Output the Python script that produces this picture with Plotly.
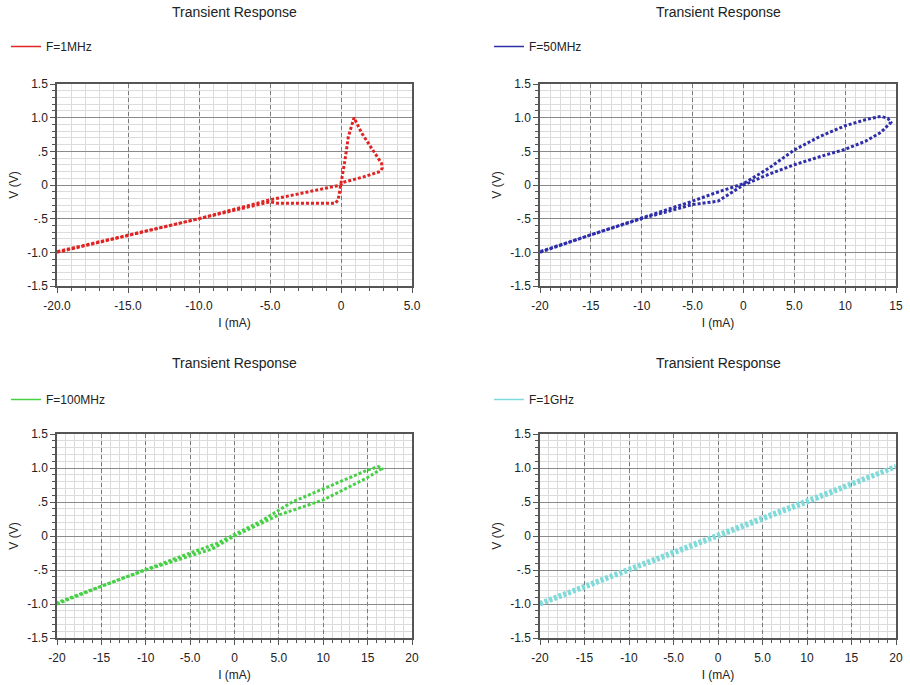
import plotly.graph_objects as go

# ---------------- data ----------------
titles = ["Transient Response"] * 4
series_names = ["F=1MHz", "F=50MHz", "F=100MHz", "F=1GHz"]
colors = ["#e02424", "#2e2eaa", "#46d046", "#7fdada"]

i_1mhz = [-20, -15, -10, -5, -4.5, -0.4, -0.2, -0.05, 0.05, 0.28, 0.52, 0.92, 1.46, 2.0, 2.51, 2.86, 2.9, 2.75, 1.58, 0.6, 0.16, 0, -2.5, -5, -10, -15, -20]
v_1mhz = [-1.0, -0.75, -0.5, -0.25, -0.27, -0.27, -0.22, -0.05, 0.05, 0.37, 0.72, 1.0, 0.77, 0.6, 0.45, 0.32, 0.25, 0.2, 0.12, 0.07, 0.04, 0.0, -0.11, -0.22, -0.5, -0.74, -0.99]

i_50mhz = [-20, -15, -10, -5, -2.5, -1, 0, 2.5, 5, 7.5, 10, 12, 13.5, 14.5, 14.2, 13.5, 12, 10, 7.5, 5, 2.5, 0, -1.5, -3, -5, -10, -15, -20]
v_50mhz = [-1.0, -0.74, -0.5, -0.29, -0.24, -0.1, 0.0, 0.16, 0.3, 0.42, 0.53, 0.65, 0.78, 0.93, 0.99, 1.02, 0.97, 0.88, 0.72, 0.52, 0.25, 0.02, -0.05, -0.13, -0.24, -0.49, -0.74, -0.99]

i_100mhz = [-20, -15, -10, -5, -2.5, 0, 5, 10, 15, 16.6, 16.2, 15, 10, 6.5, 3, 0, -2, -5, -10, -15, -20]
v_100mhz = [-1.0, -0.74, -0.5, -0.29, -0.19, 0.0, 0.31, 0.53, 0.86, 0.99, 1.02, 0.97, 0.7, 0.5, 0.22, 0.02, -0.11, -0.25, -0.49, -0.73, -0.98]

i_1ghz = [-20, -10, 0, 10, 20, 10, 0, -10, -20]
v_1ghz = [-1.0, -0.5, -0.01, 0.5, 1.02, 0.52, 0.01, -0.49, -0.99]

x_data = [i_1mhz, i_50mhz, i_100mhz, i_1ghz]
y_data = [v_1mhz, v_50mhz, v_100mhz, v_1ghz]

x_ranges = [[-20, 5], [-20, 15], [-20, 20], [-20, 20]]
x_tickvals = [[-20, -15, -10, -5, 0, 5],
              [-20, -15, -10, -5, 0, 5, 10, 15],
              [-20, -15, -10, -5, 0, 5, 10, 15, 20],
              [-20, -15, -10, -5, 0, 5, 10, 15, 20]]
x_ticktext = [["-20.0", "-15.0", "-10.0", "-5.0", "0", "5.0"],
              ["-20", "-15", "-10", "-5.0", "0", "5.0", "10", "15"],
              ["-20", "-15", "-10", "-5.0", "0", "5.0", "10", "15", "20"],
              ["-20", "-15", "-10", "-5.0", "0", "5.0", "10", "15", "20"]]
y_tickvals = [-1.5, -1.0, -0.5, 0, 0.5, 1.0, 1.5]
y_ticktext = ["-1.5", "-1.0", "-.5", "0", ".5", "1.0", "1.5"]
x_title = "I (mA)"
y_title = "V (V)"

# ---------------- layout ----------------
W, H = 910, 685
px_x = [(57, 412), (540, 896), (57, 412), (540, 896)]
px_y = [(84, 286), (84, 286), (434, 638), (434, 638)]
FONT = "Liberation Sans"

fig = go.Figure()
layout = dict(width=W, height=H, margin=dict(l=0, r=0, t=0, b=0, autoexpand=False),
              paper_bgcolor="white", plot_bgcolor="white",
              font=dict(family=FONT, size=11, color="#222"), showlegend=True)

annotations = []
for k in range(4):
    sfx = "" if k == 0 else str(k + 1)
    xd = [px_x[k][0] / W, px_x[k][1] / W]
    yd = [1 - px_y[k][1] / H, 1 - px_y[k][0] / H]
    layout["xaxis" + sfx] = dict(
        domain=xd, anchor="y" + sfx, range=x_ranges[k], automargin=False,
        tickvals=x_tickvals[k], ticktext=x_ticktext[k],
        showgrid=True, gridcolor="#7a7a7a", griddash="4px,3px", gridwidth=1,
        zeroline=False, showline=True, linecolor="#555", linewidth=1.5, mirror=True,
        ticks="outside", ticklen=5, tickcolor="#555", ticklabelstandoff=3,
        minor=dict(dtick=1, showgrid=True, gridcolor="#dcdcdc", gridwidth=1, griddash="solid",
                   ticks="outside", ticklen=3, tickcolor="#555"),
        tickfont=dict(size=12, color="#222"),
        title=dict(text=x_title, font=dict(size=12, color="#222"), standoff=6),
    )
    layout["yaxis" + sfx] = dict(
        domain=yd, anchor="x" + sfx, range=[-1.5, 1.5], automargin=False,
        tickvals=y_tickvals, ticktext=y_ticktext,
        showgrid=True, gridcolor="#8a8a8a", gridwidth=1,
        zeroline=False, showline=True, linecolor="#555", linewidth=1.5, mirror=True,
        ticks="outside", ticklen=5, tickcolor="#555",
        minor=dict(dtick=0.1, showgrid=True, gridcolor="#dcdcdc", gridwidth=1, griddash="solid",
                   ticks="outside", ticklen=3, tickcolor="#555"),
        tickfont=dict(size=12, color="#222"),
        title=dict(text=y_title, font=dict(size=12, color="#222"), standoff=6),
    )
    lg = "legend" if k == 0 else "legend" + str(k + 1)
    lx = (6 if k % 2 == 0 else 489) / W
    ly = 1 - ((32 if k < 2 else 385)) / H
    layout[lg] = dict(x=lx, y=ly, xanchor="left", yanchor="top",
                      bgcolor="rgba(0,0,0,0)", itemwidth=30,
                      font=dict(family=FONT, size=12, color="#222"))
    annotations.append(dict(text=titles[k], xref="paper", yref="paper",
                            x=(px_x[k][0] + px_x[k][1]) / 2 / W,
                            y=1 - (12 if k < 2 else 363) / H,
                            xanchor="center", yanchor="middle", showarrow=False,
                            font=dict(family=FONT, size=14, color="#222")))

    fig.add_trace(go.Scatter(x=x_data[k], y=y_data[k], mode="lines",
                             line=dict(color=colors[k], width=3 if k < 3 else 5, dash="3px,2px"),
                             xaxis="x" + sfx, yaxis="y" + sfx, showlegend=False,
                             hoverinfo="skip"))
    fig.add_trace(go.Scatter(x=[None], y=[None], mode="lines", name=series_names[k],
                             line=dict(color=colors[k], width=1.5),
                             xaxis="x" + sfx, yaxis="y" + sfx, legend=lg, showlegend=True))

layout["annotations"] = annotations
fig.update_layout(**layout)
fig.write_html("out.html", config={"displayModeBar": False},
               post_script="document.body.style.margin='0';document.body.style.overflow='hidden';")
